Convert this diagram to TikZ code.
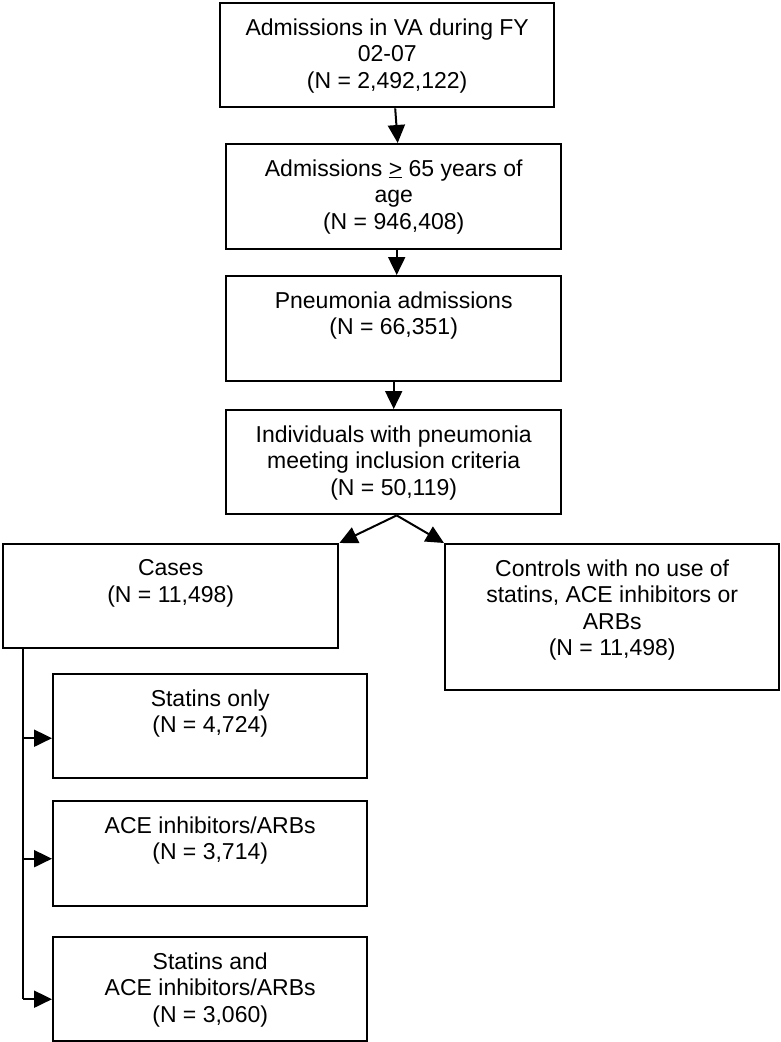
\documentclass[tikz,border=0pt]{standalone}
\usepackage{fontspec}
\setmainfont{Liberation Sans}
\usetikzlibrary{arrows.meta,calc}
\tikzset{
  box/.style={draw, line width=2.4pt, inner sep=0pt, anchor=north west},
  txt/.style={align=center, inner sep=0pt, anchor=north, font=\fontsize{23}{26.5}\selectfont},
  arr/.style={line width=2pt, -{Triangle[length=18pt,width=17pt]}},
  rail/.style={line width=2pt},
}
\begin{document}
\begin{tikzpicture}[x=1pt,y=1pt]
\useasboundingbox (0,0) rectangle (780,-1042);
% boxes
\node[box, minimum width=334pt, minimum height=104pt] (b1) at (219,-2) {};
\node[box, minimum width=335pt, minimum height=105pt] (b2) at (225,-143) {};
\node[box, minimum width=335pt, minimum height=105pt] (b3) at (225,-275) {};
\node[box, minimum width=335pt, minimum height=104pt] (b4) at (225,-409) {};
\node[box, minimum width=335pt, minimum height=104pt] (cases) at (2,-543) {};
\node[box, minimum width=334pt, minimum height=146pt] (ctrl) at (444,-543) {};
\node[box, minimum width=314pt, minimum height=104pt] (s1) at (52,-673) {};
\node[box, minimum width=314pt, minimum height=105pt] (s2) at (52,-800) {};
\node[box, minimum width=314pt, minimum height=104pt] (s3) at (52,-936) {};
% texts
\node[txt] (t1) at ([yshift=-16.3pt]b1.north) {Admissions in VA during FY\\02-07\\(N = 2,492,122)};
\node[txt] (t2) at ([yshift=-16.3pt]b2.north) {Admissions \underline{>} 65 years of\\age\\(N = 946,408)};
\node[txt] (t3) at ([yshift=-16.3pt]b3.north) {Pneumonia admissions\\(N = 66,351)};
\node[txt] (t4) at ([yshift=-16.3pt]b4.north) {Individuals with pneumonia\\meeting inclusion criteria\\(N = 50,119)};
\node[txt] (tc) at ([yshift=-16.3pt]cases.north) {Cases\\(N = 11,498)};
\node[txt] (tk) at ([yshift=-16.3pt]ctrl.north) {Controls with no use of\\statins, ACE inhibitors or\\ARBs\\(N = 11,498)};
\node[txt] (ts1) at ([yshift=-16.3pt]s1.north) {Statins only\\(N = 4,724)};
\node[txt] (ts2) at ([yshift=-16.3pt]s2.north) {ACE inhibitors/ARBs\\(N = 3,714)};
\node[txt] (ts3) at ([yshift=-16.3pt]s3.north) {Statins and\\ACE inhibitors/ARBs\\(N = 3,060)};
% connectors
\draw[arr] ([xshift=8pt]b1.south) -- ([xshift=4pt]b2.north);
\draw[arr] ([xshift=3pt]b2.south) -- ([xshift=3pt]b3.north);
\draw[arr] (b3.south) -- (b4.north);
\coordinate (sp) at ([xshift=3pt]b4.south);
\draw[arr] (sp) -- (cases.north east);
\draw[arr] (sp) -- (ctrl.north west);
\coordinate (rtop) at ([xshift=21pt]cases.south west);
\coordinate (e1) at ([yshift=-12pt]s1.west);
\coordinate (e2) at ([yshift=-5pt]s2.west);
\coordinate (e3) at ([yshift=-10pt]s3.west);
\draw[rail] (rtop) -- (rtop |- e3);
\draw[arr] (rtop |- e3) -- (e3);
\draw[arr] (rtop |- e1) -- (e1);
\draw[arr] (rtop |- e2) -- (e2);
\end{tikzpicture}
\end{document}
